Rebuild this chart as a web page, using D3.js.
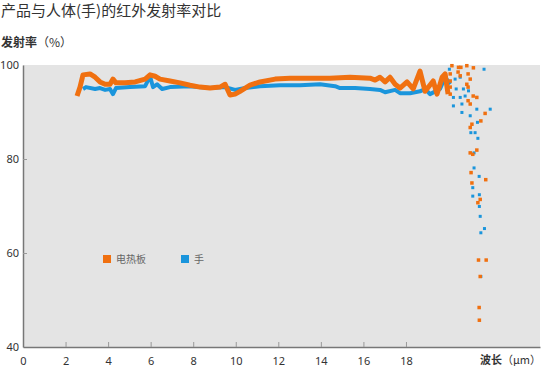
<!DOCTYPE html>
<html>
<head>
<meta charset="utf-8">
<script src="https://cdn.jsdelivr.net/npm/d3@7"></script>
<style>
  body { margin: 0; background: #fff; }
  text { font-family: "Noto Sans CJK SC", "Noto Sans", sans-serif; }
</style>
</head>
<body>
<div id="chart"></div>
<script>
// Orange: electric heating plate (电热板), blue: hand (手)
const plateWave = [2.54, 2.68, 2.82, 3.15, 3.39, 3.62, 3.86, 4.09, 4.23, 4.37, 4.8, 5.27, 5.74, 5.97, 6.21, 6.44, 6.91, 7.38, 7.85, 8.32, 8.79, 9.26, 9.5, 9.73, 9.97, 10.2, 10.67, 11.14, 11.85, 12.55, 13.49, 14.43, 15.37, 16.31, 16.55, 16.78, 17.02, 17.25, 17.49, 17.72, 18.05, 18.34, 18.66, 18.9, 19.28, 19.46, 19.7, 19.84, 19.98];
const plateValue = [93.4, 95.3, 97.9, 98.1, 97.4, 96.4, 95.9, 95.9, 97.0, 96.2, 96.2, 96.4, 97.0, 97.9, 97.6, 97.0, 96.6, 96.2, 95.7, 95.3, 95.1, 95.3, 95.9, 93.6, 93.8, 94.4, 95.7, 96.4, 97.0, 97.2, 97.2, 97.2, 97.4, 97.2, 96.8, 97.4, 96.4, 97.4, 95.9, 95.1, 96.4, 94.9, 98.7, 94.4, 96.6, 93.8, 97.4, 98.1, 93.8];

const handWave = [2.82, 2.96, 3.39, 3.62, 3.86, 4.09, 4.23, 4.37, 5.03, 5.74, 5.97, 6.11, 6.3, 6.54, 6.91, 7.85, 8.79, 9.5, 9.97, 10.44, 11.14, 12.08, 13.02, 13.96, 14.67, 14.9, 15.61, 16.31, 16.78, 17.02, 17.49, 17.72, 18.19, 18.66, 18.9, 19.13, 19.6, 19.84, 20.08];
const handValue = [94.9, 95.3, 94.9, 95.1, 94.7, 94.9, 93.8, 95.1, 95.3, 95.5, 97.6, 95.3, 95.9, 94.9, 95.3, 95.5, 95.1, 95.3, 94.7, 95.1, 95.5, 95.7, 95.7, 95.9, 95.5, 95.1, 95.1, 94.9, 94.7, 94.2, 94.7, 94.0, 94.0, 94.4, 94.9, 93.8, 94.9, 97.4, 95.9];

// scattered points beyond ~20 µm
const plateDotWave = [20.16, 20.47, 20.58, 20.86, 21.17, 20.08, 20.45, 20.55, 20.92, 21.02, 20.08, 20.08, 20.86, 20.92, 20.08, 20.92, 21.16, 21.02, 21.33, 21.72, 21.52, 21.1, 21.02, 21.02, 21.14, 21.33, 21.06, 21.1, 21.75, 21.49, 21.38, 21.41, 21.77, 21.49, 21.44, 21.45];
const plateDotValue = [99.85, 99.5, 99.5, 99.85, 99.4, 98.1, 98.5, 97.7, 98.1, 97.0, 96.6, 95.3, 95.9, 95.3, 93.8, 92.4, 93.4, 91.7, 93.1, 89.7, 88.1, 87.4, 86.7, 81.3, 81.0, 81.9, 77.1, 74.9, 75.6, 71.4, 70.7, 58.5, 58.5, 55.0, 48.4, 45.7];

const handDotWave = [21.67, 20.04, 20.31, 20.55, 20.36, 20.7, 20.94, 20.23, 20.55, 20.78, 20.23, 20.63, 20.63, 21.33, 21.96, 21.02, 21.36, 21.05, 21.25, 21.38, 21.2, 21.2, 21.44, 21.14, 21.14, 21.45, 21.45, 21.49, 21.69, 21.52, 21.52];
const handDotValue = [99.1, 99.1, 97.0, 97.4, 94.9, 94.9, 94.5, 93.1, 93.1, 93.4, 91.3, 91.7, 89.9, 90.6, 90.6, 89.2, 87.8, 85.6, 85.6, 84.4, 81.3, 78.1, 76.3, 73.9, 72.1, 72.4, 69.9, 67.8, 65.2, 64.3, 55.0];

const xTicks = [0, 2, 4, 6, 8, 10, 12, 14, 16, 18];
const yTicks = [40, 60, 80, 100];
const seriesNames = ["电热板", "手"];
const seriesColors = ["#f07010", "#1a95dc"];

const W = 542, H = 378;
const margin = {top: 65, right: 2, bottom: 31, left: 23};
const width = W - margin.left - margin.right,
      height = H - margin.top - margin.bottom;

const svg = d3.select("#chart")
  .append("svg")
    .attr("width", W)
    .attr("height", H);

// Title
svg.append("text")
  .attr("x", 1)
  .attr("y", 16)
  .style("font-size", "15px")
  .style("fill", "#333")
  .text("产品与人体(手)的红外发射率对比");

// Y axis title
const yTitle = svg.append("text")
  .attr("x", 1)
  .attr("y", 47)
  .style("font-size", "12px")
  .style("fill", "#333");
yTitle.append("tspan").style("font-weight", "bold").text("发射率");
yTitle.append("tspan").text("（%）");

const g = svg.append("g")
  .attr("transform", `translate(${margin.left},${margin.top})`);

const x = d3.scaleLinear().domain([0, 24.3]).range([0, width]);
const y = d3.scaleLinear().domain([40, 100]).range([height, 0]);

// plot background
g.append("rect")
  .attr("width", width)
  .attr("height", height)
  .attr("fill", "#e4e4e4");

// Axes
const xAxis = g.append("g")
  .attr("transform", `translate(0,${height})`)
  .call(d3.axisBottom(x).tickValues(xTicks).tickSize(-5).tickPadding(10).tickSizeOuter(0));
xAxis.select(".domain").attr("stroke", "#777").attr("stroke-width", 1.5);
xAxis.selectAll(".tick line").attr("stroke", "#999");
xAxis.selectAll(".tick").filter(d => d === 0).select("line").remove();
xAxis.selectAll("text").style("font-size", "11px").style("fill", "#333")
  .style("font-family", "'Noto Sans', sans-serif");

const yAxis = g.append("g")
  .call(d3.axisLeft(y).tickValues(yTicks).tickSize(-4).tickPadding(4).tickSizeOuter(0));
yAxis.select(".domain").attr("stroke", "#777").attr("stroke-width", 1.5);
yAxis.selectAll(".tick line").attr("stroke", "#999");
yAxis.selectAll(".tick").filter(d => d === 40 || d === 100).select("line").remove();
yAxis.selectAll("text").style("font-size", "11px").style("fill", "#333")
  .style("font-family", "'Noto Sans', sans-serif");

// X axis title
const xTitle = svg.append("text")
  .attr("x", W - 1)
  .attr("y", H - 14)
  .attr("text-anchor", "end")
  .style("font-size", "11px")
  .style("fill", "#333");
xTitle.append("tspan").style("font-weight", "bold").text("波长");
xTitle.append("tspan").text("（μm）");

const line = d3.line()
  .x(d => x(d[0]))
  .y(d => y(d[1]));

const handData = handWave.map((w, i) => [w, handValue[i]]);
const plateData = plateWave.map((w, i) => [w, plateValue[i]]);

g.append("path")
  .datum(handData)
  .attr("fill", "none")
  .attr("stroke", seriesColors[1])
  .attr("stroke-width", 4)
  .attr("stroke-linejoin", "round")
  .attr("d", line);

g.append("path")
  .datum(plateData)
  .attr("fill", "none")
  .attr("stroke", seriesColors[0])
  .attr("stroke-width", 5)
  .attr("stroke-linejoin", "round")
  .attr("d", line);

// scatter dots
g.selectAll(".dot-hand")
  .data(handDotWave.map((w, i) => [w, handDotValue[i]]))
  .enter().append("rect")
    .attr("class", "dot-hand")
    .attr("x", d => x(d[0]) - 1.5)
    .attr("y", d => y(d[1]) - 1.5)
    .attr("width", 3)
    .attr("height", 3)
    .attr("fill", seriesColors[1]);

g.selectAll(".dot-plate")
  .data(plateDotWave.map((w, i) => [w, plateDotValue[i]]))
  .enter().append("rect")
    .attr("class", "dot-plate")
    .attr("x", d => x(d[0]) - 1.75)
    .attr("y", d => y(d[1]) - 1.75)
    .attr("width", 3.5)
    .attr("height", 3.5)
    .attr("fill", seriesColors[0]);

// Legend
seriesNames.forEach(function(name, i) {
  const lx = 80 + i * 78, ly = 194;
  g.append("rect")
    .attr("x", lx)
    .attr("y", ly - 4)
    .attr("width", 8)
    .attr("height", 8)
    .attr("fill", seriesColors[i]);
  g.append("text")
    .attr("x", lx + 13)
    .attr("y", ly)
    .attr("dy", ".35em")
    .style("font-size", "10px")
    .style("fill", "#666")
    .text(name);
});
</script>
</body>
</html>
